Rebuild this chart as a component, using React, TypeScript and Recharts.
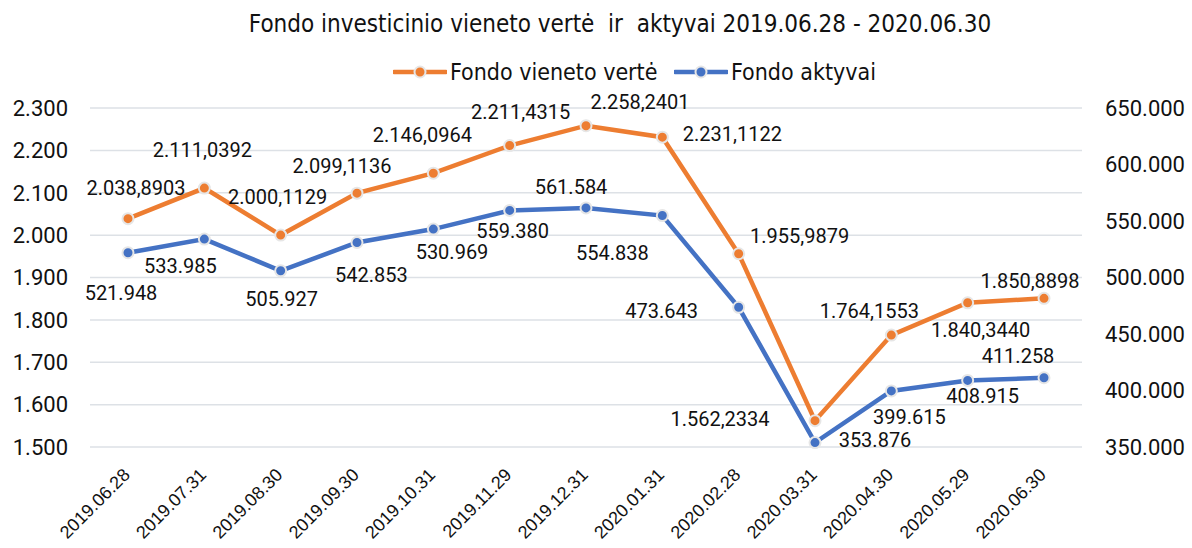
import React from 'react';
import { LineChart, Line, XAxis, YAxis, CartesianGrid, LabelList, Legend } from 'recharts';

const dates = [
  '2019.06.28', '2019.07.31', '2019.08.30', '2019.09.30', '2019.10.31', '2019.11.29', '2019.12.31',
  '2020.01.31', '2020.02.28', '2020.03.31', '2020.04.30', '2020.05.29', '2020.06.30',
];
const unitValue = [
  2038.8903, 2111.0392, 2000.1129, 2099.1136, 2146.0964, 2211.4315, 2258.2401,
  2231.1122, 1955.9879, 1562.2334, 1764.1553, 1840.344, 1850.8898,
];
const assets = [
  521948, 533985, 505927, 530969, 542853, 559380, 561584,
  554838, 473643, 353876, 399615, 408915, 411258,
];
const leftTicks = [1500, 1600, 1700, 1800, 1900, 2000, 2100, 2200, 2300];
const rightTicks = [350000, 400000, 450000, 500000, 550000, 600000, 650000];

const seriesNames = { unitValue: 'Fondo vieneto vertė', assets: 'Fondo aktyvai' };
const title = 'Fondo investicinio vieneto vertė  ir  aktyvai 2019.06.28 - 2020.06.30';

// label placement (style): offsets of label centre from its point
const orangeLabelOffsets: [number, number][] = [
  [8, -31], [-2, -38], [-3, -38], [-15, -27], [-11, -38], [11, -34], [54, -24],
  [70, -3], [61, -18], [-95, -2], [-22, -24], [13, 27], [-14, -17],
];
const blueLabelOffsets: [number, number][] = [
  [-7, 40], [-24, 27], [1, 28], [95, 9], [-62, 46], [3, 21], [-15, -21],
  [-50, 37], [-77, 4], [60, -3], [18, 26], [15, 16], [-26, -22],
];

const ORANGE = '#ED7D31';
const BLUE = '#4472C4';
const NARROW = "'Liberation Sans Narrow', 'Arial Narrow', 'DejaVu Sans Condensed', sans-serif";
const ROBOTO = "Roboto, 'Noto Sans', sans-serif";

const data = dates.map((d, i) => ({ date: d, unitValue: unitValue[i], assets: assets[i] }));

function groupThousands(n: number): string {
  const s = Math.round(n).toString();
  return s.replace(/\B(?=(\d{3})+(?!\d))/g, '.');
}
function fmtUnit(v: number): string {
  const [ip, dp] = v.toFixed(4).split('.');
  return groupThousands(Number(ip)) + ',' + dp;
}

const makeLabel = (offsets: [number, number][], values: number[], fmt: (v: number) => string) => (props: any) => {
  const { x, y, value } = props;
  let idx = props.index;
  if (idx === undefined || idx === null) idx = values.indexOf(Number(value));
  const off = offsets[idx] || [0, -20];
  return (
    <text
      x={Number(x) + off[0]}
      y={Number(y) + off[1] + 7}
      textAnchor="middle"
      fontFamily={ROBOTO}
      fontSize={20}
      fill="#111"
    >
      {fmt(Number(value))}
    </text>
  );
};

const XTick = (props: any) => {
  const { x, y, payload } = props;
  const ax = x + 3;
  const ay = y + 21;
  return (
    <text
      x={ax}
      y={ay}
      transform={`rotate(-45, ${ax}, ${ay})`}
      textAnchor="end"
      fontFamily="'Liberation Sans', Arial, sans-serif"
      fontSize={18}
      fill="#111"
    >
      {payload.value}
    </text>
  );
};

const LegendContent = () => {
  const item = (color: string, label: string, left: number) => (
    <div style={{ position: 'absolute', left, top: 0, display: 'flex', alignItems: 'center', height: 40 }}>
      <svg width={54} height={20} style={{ display: 'block' }}>
        <line x1={1} y1={10} x2={53} y2={10} stroke={color} strokeWidth={4.5} strokeLinecap="round" />
        <circle cx={27} cy={10} r={5.5} fill={color} stroke="#e6e6e6" strokeWidth={2} />
      </svg>
      <span style={{ fontFamily: NARROW, fontSize: 23, color: '#111', marginLeft: 3, lineHeight: '40px', whiteSpace: 'nowrap' }}>
        {label}
      </span>
    </div>
  );
  return (
    <div style={{ position: 'relative', width: 1192, height: 40 }}>
      {item(ORANGE, seriesNames.unitValue, 393)}
      {item(BLUE, seriesNames.assets, 674)}
    </div>
  );
};

export default function App() {
  return (
    <div style={{ position: 'absolute', left: 0, top: 0, width: 1192, height: 548, background: '#fff' }}>
      <div
        style={{
          position: 'absolute', left: 0, top: 7, width: 1240, textAlign: 'center',
          fontFamily: NARROW, fontSize: 24, color: '#111', whiteSpace: 'pre', lineHeight: '34px',
        }}
      >
        {title}
      </div>
      <LineChart width={1192} height={548} data={data} margin={{ top: 108, right: 0, bottom: 0, left: 0 }}>
        <CartesianGrid vertical={false} stroke="#DDE1E6" strokeWidth={1.5} yAxisId="left" />
        <XAxis
          dataKey="date"
          height={101}
          padding={{ left: 38, right: 38 }}
          axisLine={false}
          tickLine={false}
          interval={0}
          tick={<XTick />}
        />
        <YAxis
          yAxisId="left"
          orientation="left"
          width={90}
          domain={[1500, 2300]}
          ticks={leftTicks}
          axisLine={false}
          tickLine={false}
          tickMargin={16}
          tickFormatter={(v: number) => groupThousands(v)}
          tick={{ fontFamily: ROBOTO, fontSize: 22, fill: '#111' }}
        />
        <YAxis
          yAxisId="right"
          orientation="right"
          width={110}
          domain={[350000, 650000]}
          ticks={rightTicks}
          axisLine={false}
          tickLine={false}
          tickMargin={17}
          tickFormatter={(v: number) => groupThousands(v)}
          tick={{ fontFamily: ROBOTO, fontSize: 22, fill: '#111', textAnchor: 'start' }}
        />
        <Legend verticalAlign="middle" align="center" layout="horizontal" wrapperStyle={{ top: 52, left: 0, width: 1192, height: 40 }} content={<LegendContent />} />
        <Line
          yAxisId="left"
          dataKey="unitValue"
          name={seriesNames.unitValue}
          stroke={ORANGE}
          strokeWidth={4.5}
          dot={{ r: 5.5, fill: ORANGE, stroke: '#e6e6e6', strokeWidth: 2 }}
          isAnimationActive={false}
        >
          <LabelList dataKey="unitValue" content={makeLabel(orangeLabelOffsets, unitValue, fmtUnit)} />
        </Line>
        <Line
          yAxisId="right"
          dataKey="assets"
          name={seriesNames.assets}
          stroke={BLUE}
          strokeWidth={4.5}
          dot={{ r: 5.5, fill: BLUE, stroke: '#e6e6e6', strokeWidth: 2 }}
          isAnimationActive={false}
        >
          <LabelList dataKey="assets" content={makeLabel(blueLabelOffsets, assets, groupThousands)} />
        </Line>
      </LineChart>
    </div>
  );
}
